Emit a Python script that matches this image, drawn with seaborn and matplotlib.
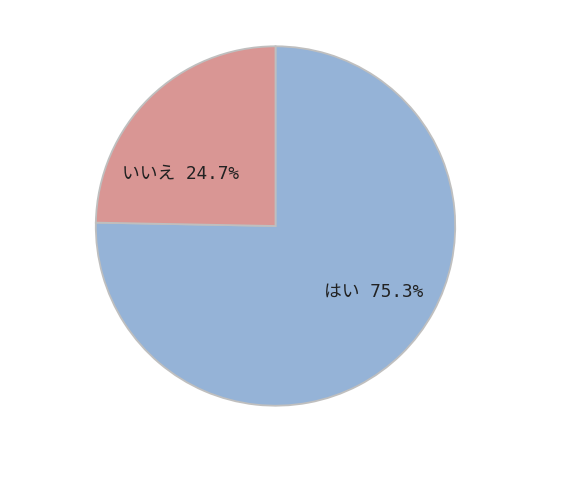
import matplotlib
matplotlib.use("Agg")
import matplotlib.pyplot as plt
import seaborn as sns
import numpy as np

categories = ["はい", "いいえ"]
values = [75.3, 24.7]
colors = ["#95B3D7", "#D99694"]

sns.set_style("white")
plt.rcParams['font.family'] = ['DejaVu Sans Mono', 'Noto Sans CJK JP']

fig = plt.figure(figsize=(5.73, 4.82), dpi=100)
cx, cy, r = 275.5, 482 - 226, 181.5
ax = fig.add_axes([(cx - r) / 573, (cy - r) / 482, 2 * r / 573, 2 * r / 482])

wedges, texts = ax.pie(values, colors=sns.color_palette(colors), startangle=90, counterclock=False,
                       wedgeprops=dict(edgecolor="#BFBFBF", linewidth=1.3), radius=1)
for t in texts:
    t.set_visible(False)

label_pos = [(0.548, -0.364), (-0.53, 0.29)]
for cat, v, (x, y) in zip(categories, values, label_pos):
    ax.text(x, y, f"{cat} {v}%", ha="center", va="center", fontsize=12.8,
            color="#222222")

ax.set_xlim(-1.01, 1.01)
ax.set_ylim(-1.01, 1.01)
ax.set_aspect("auto")
ax.axis("off")
fig.savefig("out.png", dpi=100, facecolor="white")
